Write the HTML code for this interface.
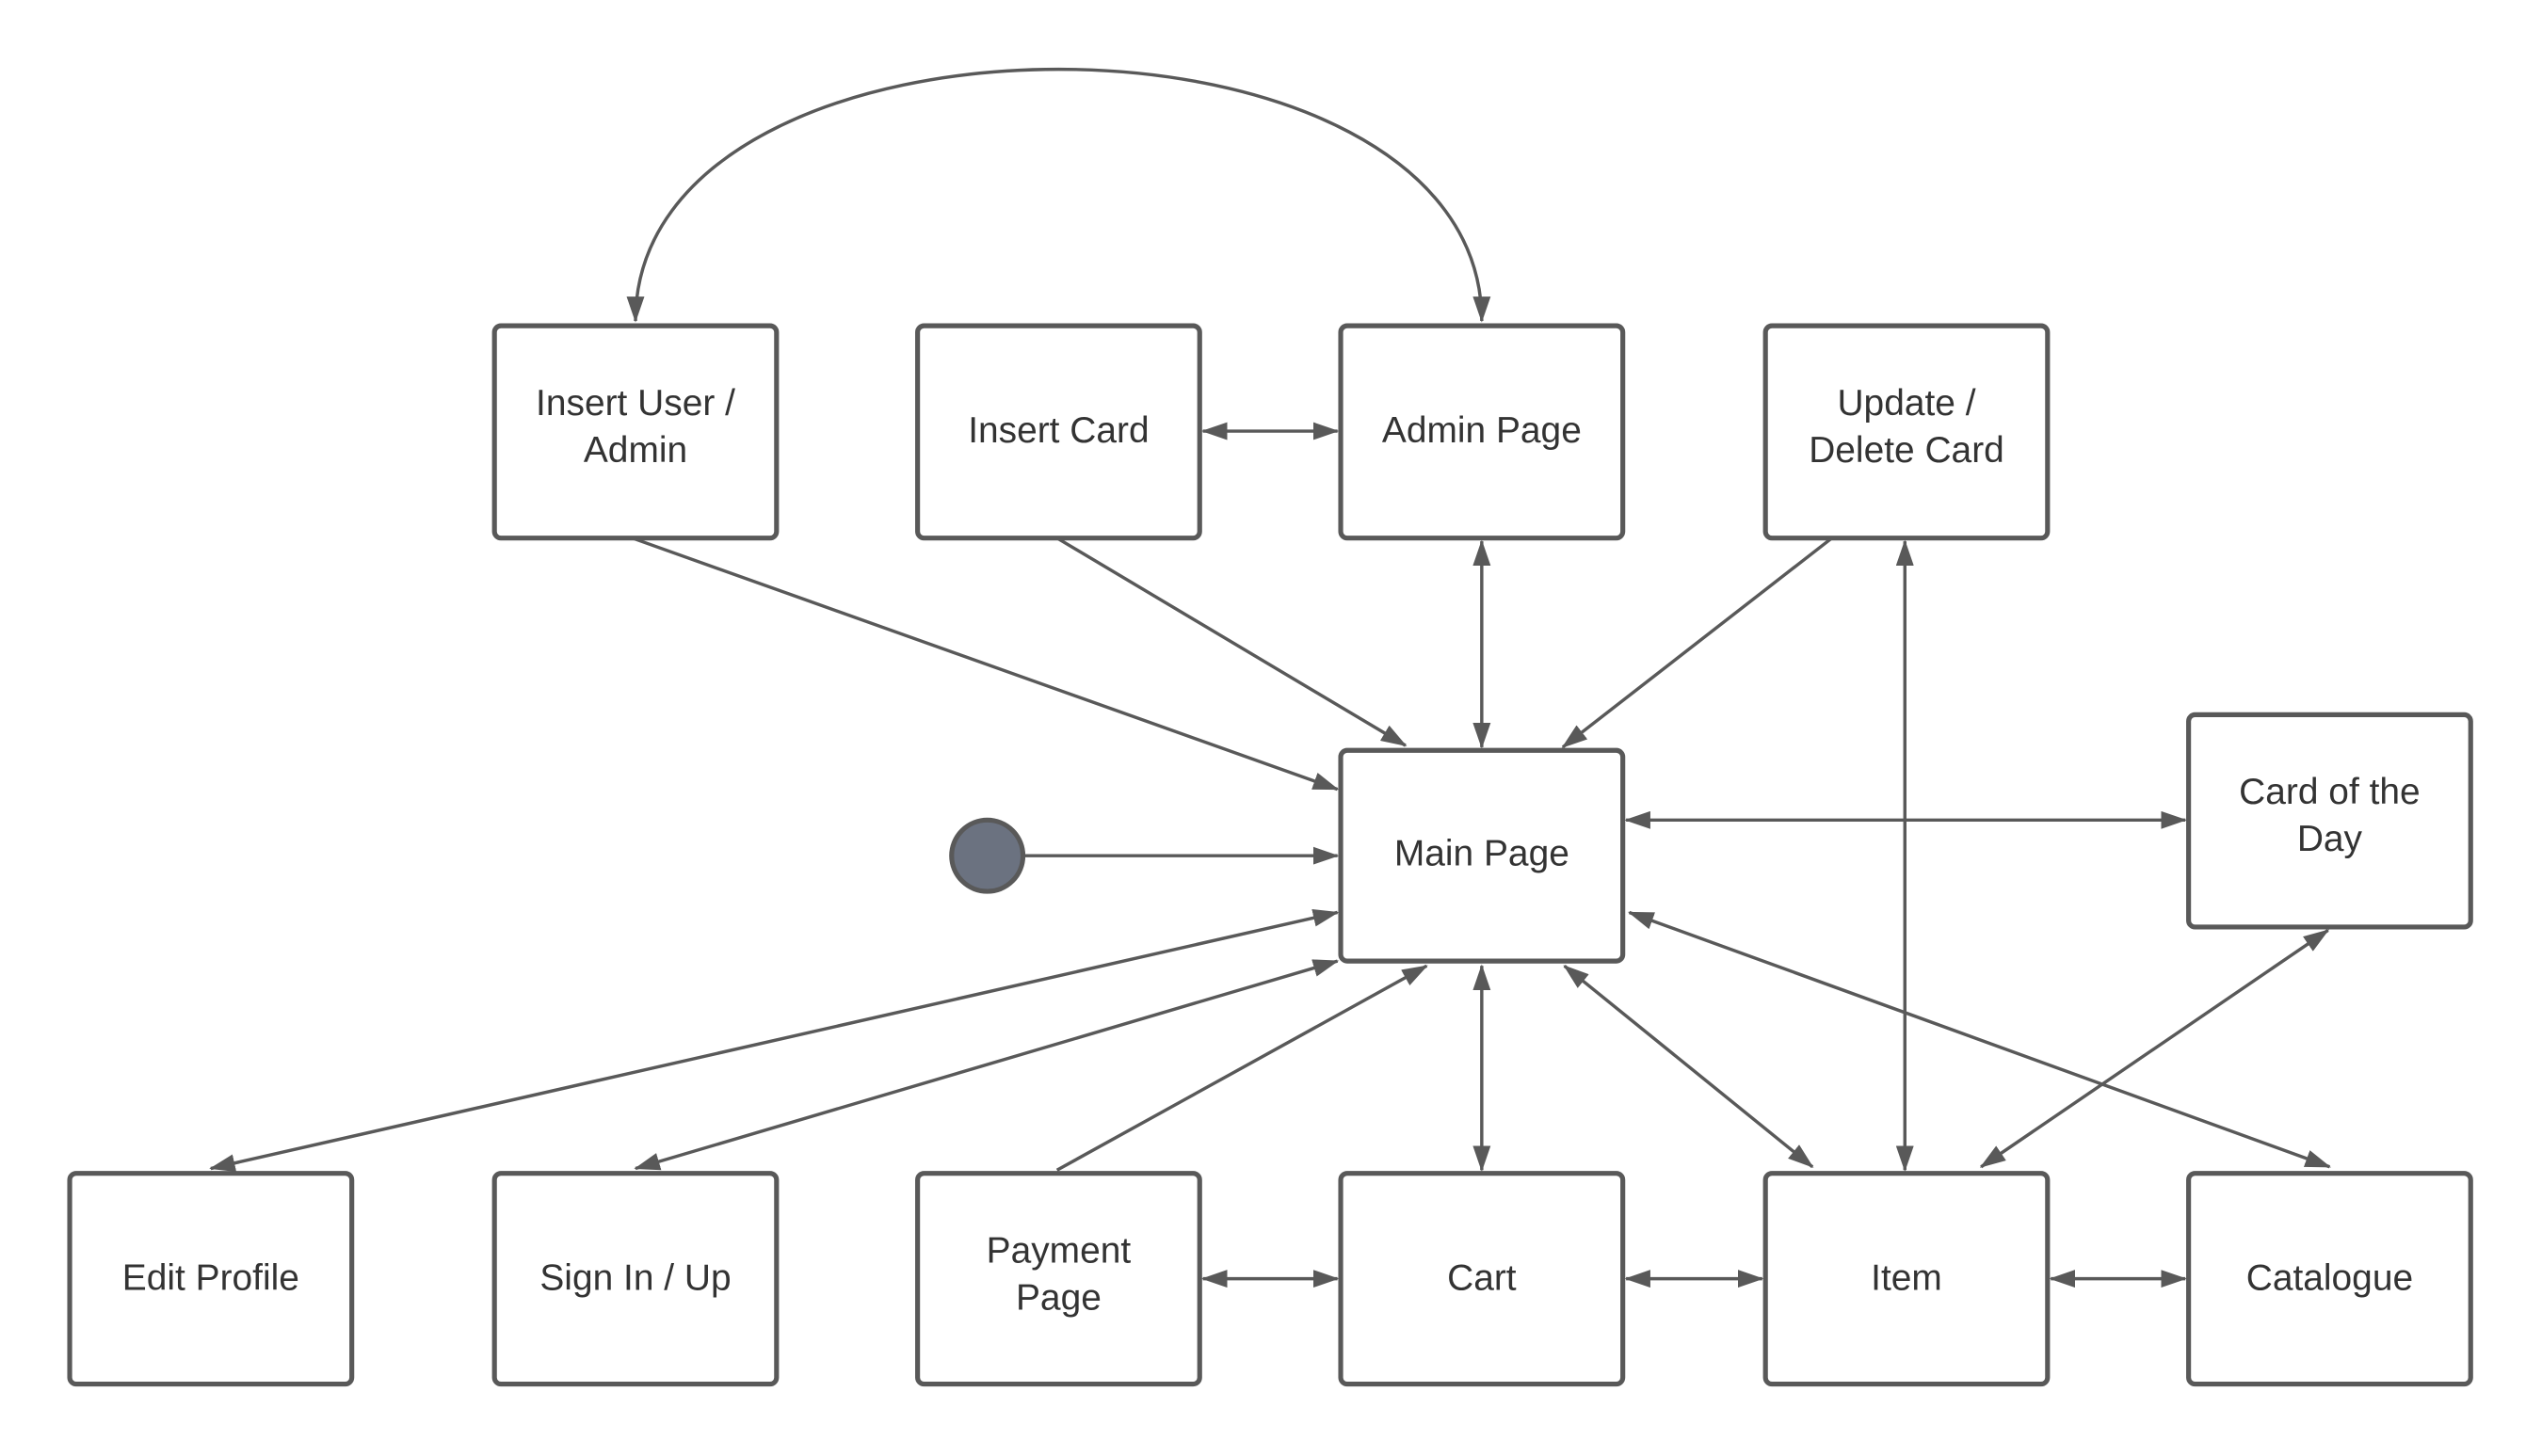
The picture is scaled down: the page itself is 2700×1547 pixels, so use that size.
<!DOCTYPE html>
<html><head><meta charset="utf-8"><style>
html,body{margin:0;padding:0;background:#fff;}
svg{display:block;}
text{font-family:"Liberation Sans",sans-serif;font-size:22.6px;fill:#333;text-anchor:middle;}
</style></head><body>
<svg width="2700" height="1547" viewBox="0 0 1568 898.4" xmlns="http://www.w3.org/2000/svg">
<defs>
<marker id="a" viewBox="0 0 16 11" refX="15" refY="5.5" markerWidth="16" markerHeight="11" markerUnits="userSpaceOnUse" orient="auto-start-reverse">
<path d="M0,0 L16,5.5 L0,11 z" fill="#595959"/>
</marker>
</defs>
<g fill="none" stroke="#595959" stroke-width="2">
<path d="M392,198 C392,-9 914,-9 914,198" marker-start="url(#a)" marker-end="url(#a)"/>
<line x1="742" y1="266" x2="825" y2="266" marker-start="url(#a)" marker-end="url(#a)"/>
<line x1="390" y1="332" x2="825" y2="487" marker-end="url(#a)"/>
<line x1="652" y1="332" x2="867" y2="460" marker-end="url(#a)"/>
<line x1="914" y1="334" x2="914" y2="461" marker-start="url(#a)" marker-end="url(#a)"/>
<line x1="1130" y1="332" x2="964" y2="461" marker-end="url(#a)"/>
<line x1="1175" y1="334" x2="1175" y2="722" marker-start="url(#a)" marker-end="url(#a)"/>
<line x1="631" y1="528" x2="825" y2="528" marker-end="url(#a)"/>
<line x1="1003" y1="506" x2="1348" y2="506" marker-start="url(#a)" marker-end="url(#a)"/>
<line x1="825" y1="563" x2="130" y2="721" marker-start="url(#a)" marker-end="url(#a)"/>
<line x1="825" y1="593" x2="392" y2="721" marker-start="url(#a)" marker-end="url(#a)"/>
<line x1="652" y1="722" x2="880" y2="596" marker-end="url(#a)"/>
<line x1="914" y1="596" x2="914" y2="722" marker-start="url(#a)" marker-end="url(#a)"/>
<line x1="965" y1="596" x2="1118" y2="720" marker-start="url(#a)" marker-end="url(#a)"/>
<line x1="1005" y1="563" x2="1437" y2="720" marker-start="url(#a)" marker-end="url(#a)"/>
<line x1="1436" y1="574" x2="1222" y2="720" marker-start="url(#a)" marker-end="url(#a)"/>
<line x1="742" y1="789" x2="825" y2="789" marker-start="url(#a)" marker-end="url(#a)"/>
<line x1="1003" y1="789" x2="1087" y2="789" marker-start="url(#a)" marker-end="url(#a)"/>
<line x1="1265" y1="789" x2="1348" y2="789" marker-start="url(#a)" marker-end="url(#a)"/>
</g>
<g fill="#fff" stroke="#595959" stroke-width="3">
<rect x="305" y="201" width="174" height="131" rx="4"/>
<rect x="566" y="201" width="174" height="131" rx="4"/>
<rect x="827" y="201" width="174" height="131" rx="4"/>
<rect x="1089" y="201" width="174" height="131" rx="4"/>
<rect x="827" y="463" width="174" height="130" rx="4"/>
<rect x="1350" y="441" width="174" height="131" rx="4"/>
<rect x="43" y="724" width="174" height="130" rx="4"/>
<rect x="305" y="724" width="174" height="130" rx="4"/>
<rect x="566" y="724" width="174" height="130" rx="4"/>
<rect x="827" y="724" width="174" height="130" rx="4"/>
<rect x="1089" y="724" width="174" height="130" rx="4"/>
<rect x="1350" y="724" width="174" height="130" rx="4"/>
</g>
<circle cx="609" cy="528" r="22" fill="#6b7280" stroke="#595959" stroke-width="3"/>
<text x="392" y="256">Insert User /</text><text x="392" y="285">Admin</text>
<text x="653" y="273">Insert Card</text>
<text x="914" y="273">Admin Page</text>
<text x="1176" y="256">Update /</text><text x="1176" y="285">Delete Card</text>
<text x="914" y="534">Main Page</text>
<text x="1437" y="496">Card of the</text><text x="1437" y="525">Day</text>
<text x="130" y="796">Edit Profile</text>
<text x="392" y="796">Sign In / Up</text>
<text x="653" y="779">Payment</text><text x="653" y="808">Page</text>
<text x="914" y="796">Cart</text>
<text x="1176" y="796">Item</text>
<text x="1437" y="796">Catalogue</text>
</svg>
</body></html>
